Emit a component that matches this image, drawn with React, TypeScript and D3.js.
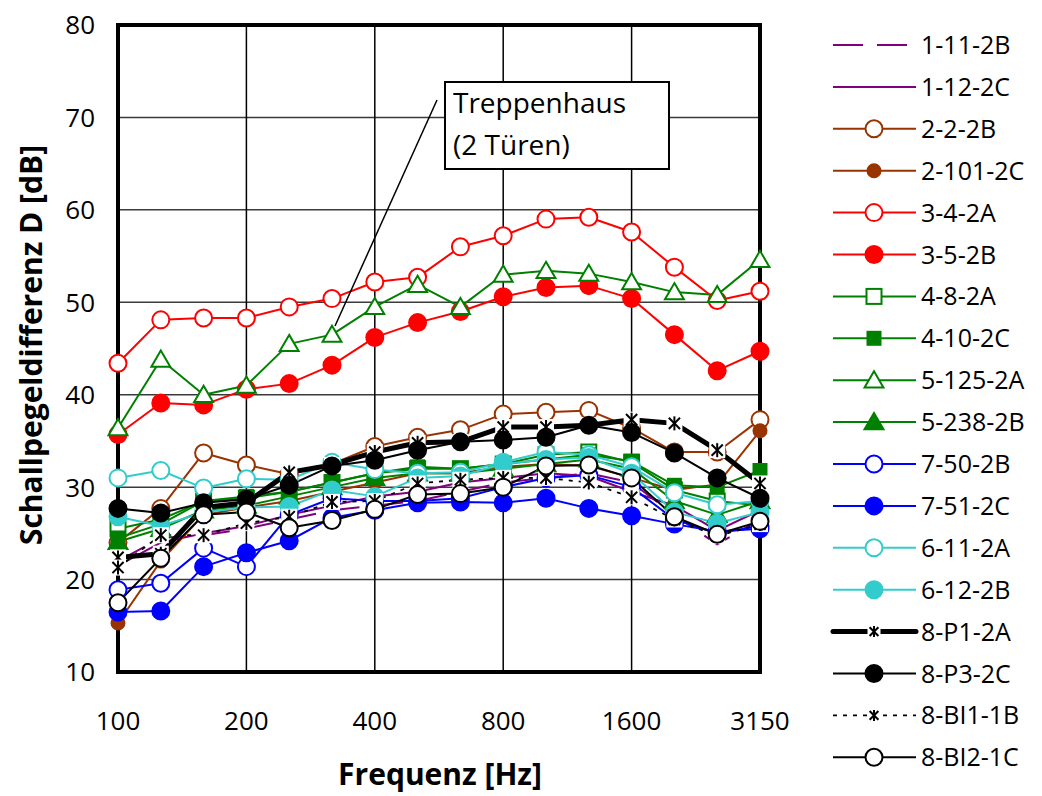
import React from "react";
import * as d3 from "d3";

const freqs = ["100","125","160","200","250","315","400","500","630","800","1000","1250","1600","2000","2500","3150"];
const xTickLabels = ["100","200","400","800","1600","3150"];
const yTicks = [10,20,30,40,50,60,70,80];

const s_1_11_2B = [22.0, 24.5, 24.8, 25.5, 26.5, 27.5, 28.0, 28.5, 29.5, 30.5, 31.0, 31.5, 30.5, 27.0, 23.8, 26.5];
const s_1_12_2C = [21.5, 24.0, 25.0, 25.8, 27.0, 28.0, 29.0, 29.5, 30.5, 31.0, 31.5, 31.2, 29.5, 28.0, 25.3, 27.5];
const s_2_2_2B = [24.0, 27.7, 33.7, 32.4, 31.4, 32.5, 34.4, 35.4, 36.2, 37.9, 38.1, 38.3, 36.4, 33.8, 33.8, 37.3];
const s_2_101_2C = [15.3, 22.0, 27.0, 27.8, 28.5, 29.5, 30.5, 31.5, 31.5, 32.2, 32.5, 32.3, 31.0, 29.7, 30.3, 36.1];
const s_3_4_2A = [43.4, 48.1, 48.3, 48.3, 49.5, 50.4, 52.2, 52.7, 56.0, 57.2, 59.0, 59.2, 57.6, 53.8, 50.2, 51.2];
const s_3_5_2B = [35.7, 39.1, 38.9, 40.6, 41.2, 43.2, 46.2, 47.8, 49.0, 50.6, 51.6, 51.8, 50.4, 46.5, 42.6, 44.7];
const s_4_8_2A = [25.5, 26.5, 28.5, 28.8, 29.5, 30.5, 31.5, 32.0, 32.0, 32.5, 33.5, 33.8, 32.7, 29.7, 28.5, 28.0];
const s_4_10_2C = [24.5, 26.0, 28.5, 29.0, 29.5, 30.5, 31.5, 32.2, 32.0, 32.5, 33.0, 33.5, 32.8, 30.2, 30.0, 31.8];
const s_5_125_2A = [36.4, 43.8, 40.0, 41.0, 45.5, 46.5, 49.5, 51.9, 49.5, 53.0, 53.4, 53.1, 52.2, 51.1, 50.8, 54.6];
const s_5_238_2B = [24.1, 25.5, 27.5, 28.0, 29.0, 30.0, 31.0, 31.5, 31.5, 32.0, 32.5, 33.0, 32.0, 28.5, 27.0, 28.5];
const s_7_50_2B = [18.9, 19.6, 23.4, 21.4, 27.0, 28.8, 28.5, 28.5, 28.8, 30.0, 31.0, 31.3, 30.0, 26.5, 25.0, 25.8];
const s_7_51_2C = [16.5, 16.6, 21.4, 22.9, 24.2, 26.7, 27.5, 28.3, 28.4, 28.3, 28.8, 27.7, 26.9, 26.0, 25.2, 25.5];
const s_6_11_2A = [31.0, 31.8, 29.9, 30.9, 30.8, 32.7, 31.9, 31.5, 31.6, 32.7, 33.8, 33.5, 32.2, 29.4, 28.1, 28.5];
const s_6_12_2B = [26.8, 25.8, 27.3, 27.8, 27.9, 29.7, 29.0, 31.0, 31.2, 32.5, 33.0, 33.2, 31.5, 27.3, 26.1, 27.3];
const s_8_P1_2A = [22.4, 22.8, 27.8, 28.3, 31.6, 32.4, 33.8, 34.8, 34.9, 36.5, 36.5, 36.7, 37.3, 36.9, 34.0, 30.4];
const s_8_P3_2C = [27.7, 27.2, 28.3, 28.7, 30.2, 32.3, 32.9, 34.0, 34.9, 35.1, 35.4, 36.7, 35.9, 33.7, 31.0, 28.8];
const s_8_BI1_1B = [21.3, 24.8, 24.8, 26.1, 26.8, 28.4, 28.5, 30.4, 30.8, 31.0, 31.0, 30.5, 28.9, 26.5, 24.7, 26.0];
const s_8_BI2_1C = [17.5, 22.3, 27.0, 27.3, 25.6, 26.4, 27.6, 29.2, 29.3, 30.0, 32.3, 32.4, 31.0, 26.8, 24.9, 26.3];

type Marker = "none" | "circle" | "square" | "triangle" | "star";
interface Series { name: string; values: number[]; color: string; marker: Marker; filled: boolean; width: number; dash?: string; msize?: number; }

const PURPLE = "#800080", BROWN = "#993300", RED = "#FF0000", GREEN = "#008000", BLUE = "#0000FF", CYAN = "#33CCCC", BLACK = "#000000";

const series: Series[] = [
  { name: "1-11-2B", values: s_1_11_2B, color: PURPLE, marker: "none", filled: false, width: 2, dash: "30,14" },
  { name: "1-12-2C", values: s_1_12_2C, color: PURPLE, marker: "none", filled: false, width: 2 },
  { name: "2-2-2B", values: s_2_2_2B, color: BROWN, marker: "circle", filled: false, width: 2 },
  { name: "2-101-2C", values: s_2_101_2C, color: BROWN, marker: "circle", filled: true, width: 2, msize: 6.5 },
  { name: "3-4-2A", values: s_3_4_2A, color: RED, marker: "circle", filled: false, width: 2 },
  { name: "3-5-2B", values: s_3_5_2B, color: RED, marker: "circle", filled: true, width: 2 },
  { name: "4-8-2A", values: s_4_8_2A, color: GREEN, marker: "square", filled: false, width: 2 },
  { name: "4-10-2C", values: s_4_10_2C, color: GREEN, marker: "square", filled: true, width: 2, msize: 6.5 },
  { name: "5-125-2A", values: s_5_125_2A, color: GREEN, marker: "triangle", filled: false, width: 2 },
  { name: "5-238-2B", values: s_5_238_2B, color: GREEN, marker: "triangle", filled: true, width: 2 },
  { name: "7-50-2B", values: s_7_50_2B, color: BLUE, marker: "circle", filled: false, width: 2 },
  { name: "7-51-2C", values: s_7_51_2C, color: BLUE, marker: "circle", filled: true, width: 2 },
  { name: "6-11-2A", values: s_6_11_2A, color: CYAN, marker: "circle", filled: false, width: 2 },
  { name: "6-12-2B", values: s_6_12_2B, color: CYAN, marker: "circle", filled: true, width: 2 },
  { name: "8-P1-2A", values: s_8_P1_2A, color: BLACK, marker: "star", filled: false, width: 5 },
  { name: "8-P3-2C", values: s_8_P3_2C, color: BLACK, marker: "circle", filled: true, width: 2 },
  { name: "8-BI1-1B", values: s_8_BI1_1B, color: BLACK, marker: "star", filled: false, width: 1.8, dash: "4,6" },
  { name: "8-BI2-1C", values: s_8_BI2_1C, color: BLACK, marker: "circle", filled: false, width: 2 },
];

const FONT = "'Open Sans', 'Noto Sans', sans-serif";

function MarkerShape({ s, cx, cy, small }: { s: Series; cx: number; cy: number; small?: boolean }) {
  const fill = s.filled ? s.color : "#ffffff";
  if (s.marker === "circle") {
    const r = s.msize ?? 8.5;
    return <circle cx={cx} cy={cy} r={r} fill={fill} stroke={s.color} strokeWidth={2} />;
  }
  if (s.marker === "square") {
    const h = s.msize ?? 7.5;
    return <rect x={cx - h} y={cy - h} width={2 * h} height={2 * h} fill={fill} stroke={s.color} strokeWidth={2} />;
  }
  if (s.marker === "triangle") {
    const h = 9;
    const p = `${cx},${cy - h} ${cx + h * 1.05},${cy + h * 0.8} ${cx - h * 1.05},${cy + h * 0.8}`;
    return <polygon points={p} fill={fill} stroke={s.color} strokeWidth={2} strokeLinejoin="miter" />;
  }
  if (s.marker === "star") {
    const h = small ? 5.5 : 7;
    return (
      <g>
        <rect x={cx - h - 1} y={cy - h - 1} width={2 * h + 2} height={2 * h + 2} fill="#ffffff" />
        <line x1={cx} y1={cy - h} x2={cx} y2={cy + h} stroke={BLACK} strokeWidth={2} />
        <line x1={cx - h * 0.8} y1={cy - h * 0.8} x2={cx + h * 0.8} y2={cy + h * 0.8} stroke={BLACK} strokeWidth={2} />
        <line x1={cx - h * 0.8} y1={cy + h * 0.8} x2={cx + h * 0.8} y2={cy - h * 0.8} stroke={BLACK} strokeWidth={2} />
      </g>
    );
  }
  return null;
}

export default function App() {
  const left = 118, right = 760, top = 25, bottom = 672;
  const x = d3.scalePoint<string>().domain(freqs).range([left, right]);
  const y = d3.scaleLinear().domain([10, 80]).range([bottom, top]);
  const line = d3.line<number>().x((_, i) => x(freqs[i]) as number).y((v) => y(v));

  const legX1 = 833, legX2 = 916, legMx = 874, legTx = 921, legY0 = 45, legDy = 41.9;

  return (
    <svg width={1042} height={796} style={{ position: "absolute", left: 0, top: 0, background: "#fff" }} fontFamily={FONT}>
      <rect x={0} y={0} width={1042} height={796} fill="#fff" />
      {yTicks.map((t) => (
        <line key={"gy" + t} x1={left} x2={right} y1={y(t)} y2={y(t)} stroke="#3a3a3a" strokeWidth={1.5} />
      ))}
      {xTickLabels.slice(1, -1).map((f) => (
        <line key={"gx" + f} x1={x(f)} x2={x(f)} y1={top} y2={bottom} stroke="#000" strokeWidth={1.5} />
      ))}
      <rect x={left} y={top} width={right - left} height={bottom - top} fill="none" stroke="#000" strokeWidth={4} />
      {yTicks.map((t) => (
        <text key={"ty" + t} x={95} y={y(t)} dy="0.36em" textAnchor="end" fontSize={26} fill="#000">{t}</text>
      ))}
      {xTickLabels.map((f) => (
        <text key={"tx" + f} x={x(f)} y={730} textAnchor="middle" fontSize={26} fill="#000">{f}</text>
      ))}
      <text x={440} y={785} textAnchor="middle" fontSize={30} fontWeight="bold" fill="#000">Frequenz [Hz]</text>
      <text transform={`translate(42,345) rotate(-90)`} textAnchor="middle" fontSize={30} fontWeight="bold" fill="#000">Schallpegeldifferenz D [dB]</text>
      {series.map((s) => (
        <path key={"l" + s.name} d={line(s.values) ?? ""} fill="none" stroke={s.color} strokeWidth={s.width} strokeDasharray={s.dash} strokeLinejoin="round" />
      ))}
      {series.map((s) => (
        <g key={"m" + s.name}>
          {s.values.map((v, i) => (
            <MarkerShape key={i} s={s} cx={x(freqs[i]) as number} cy={y(v)} />
          ))}
        </g>
      ))}
      <line x1={437} y1={100} x2={335} y2={326} stroke="#000" strokeWidth={1.5} />
      <rect x={445} y={82} width={224} height={87} fill="#fff" stroke="#000" strokeWidth={2} />
      <text x={453} y={113} fontSize={28} fill="#000">Treppenhaus</text>
      <text x={453} y={155} fontSize={28} fill="#000">(2 Türen)</text>
      {series.map((s, i) => {
        const ly = legY0 + i * legDy;
        return (
          <g key={"lg" + s.name}>
            <line x1={legX1} x2={legX2} y1={ly} y2={ly} stroke={s.color} strokeWidth={s.width} strokeDasharray={s.dash} strokeLinecap={s.width > 3 ? "round" : "butt"} />
            <MarkerShape s={s} cx={legMx} cy={ly} small />
            <text x={legTx} y={ly} dy="0.36em" fontSize={25} fill="#000">{s.name}</text>
          </g>
        );
      })}
    </svg>
  );
}
